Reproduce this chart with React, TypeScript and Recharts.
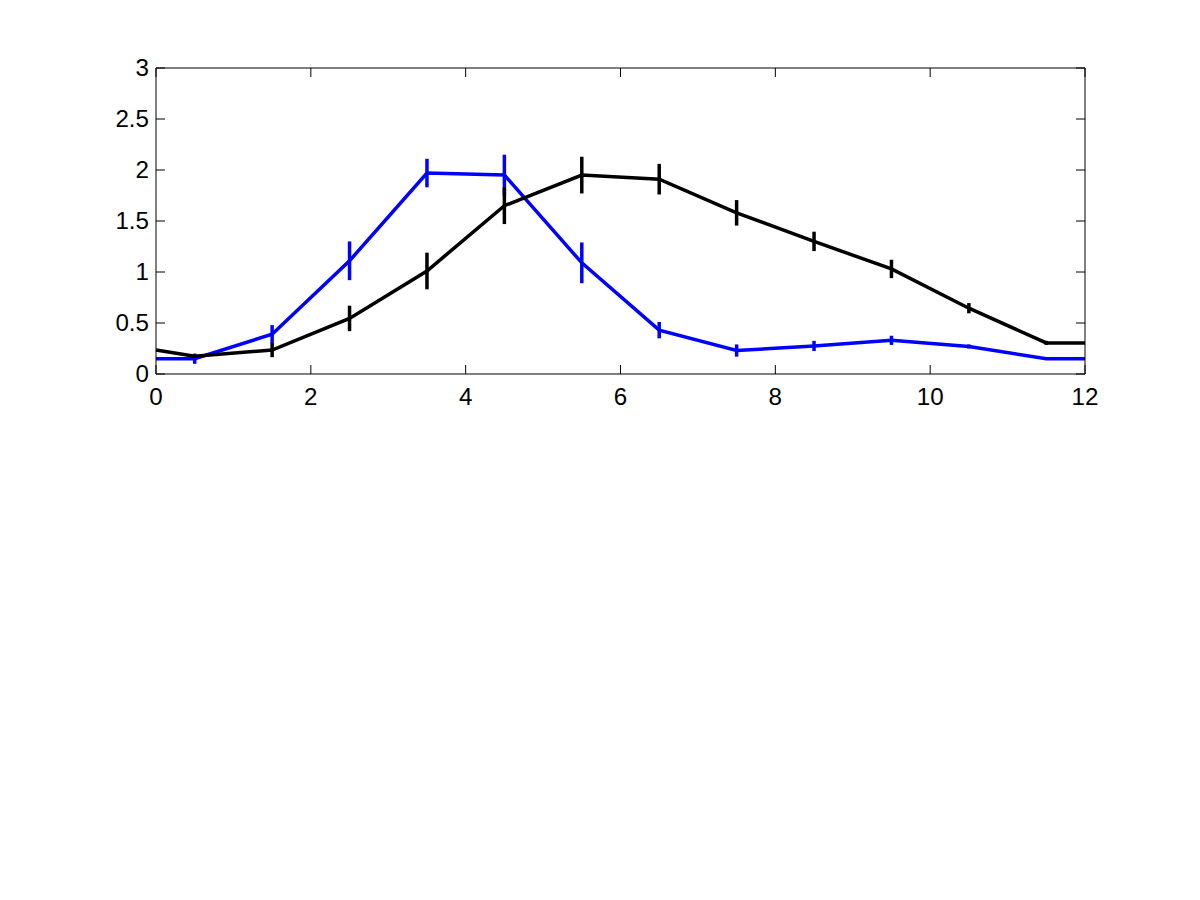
import { LineChart, Line, XAxis, YAxis, ErrorBar } from "recharts";

// x positions (bin centres, plus both ends of the axis)
const xs = [0, 0.5, 1.5, 2.5, 3.5, 4.5, 5.5, 6.5, 7.5, 8.5, 9.5, 10.5, 11.5, 12];

const blueValues = [0.15, 0.15, 0.39, 1.11, 1.97, 1.95, 1.09, 0.43, 0.23, 0.275, 0.33, 0.27, 0.15, 0.15];
const blueErrors = [0, 0.05, 0.09, 0.19, 0.14, 0.2, 0.2, 0.08, 0.06, 0.05, 0.045, 0.02, 0.01, 0];

const blackValues = [0.235, 0.175, 0.235, 0.545, 1.01, 1.65, 1.95, 1.91, 1.58, 1.3, 1.03, 0.645, 0.305, 0.305];
const blackErrors = [0, 0.02, 0.07, 0.125, 0.18, 0.18, 0.18, 0.15, 0.125, 0.095, 0.09, 0.05, 0.02, 0];

const xTicks = [0, 2, 4, 6, 8, 10, 12];
const yTicks = [0, 0.5, 1, 1.5, 2, 2.5, 3];

const data = xs.map((x, i) => ({
  x,
  blue: blueValues[i],
  blueErr: blueErrors[i],
  black: blackValues[i],
  blackErr: blackErrors[i],
}));

const BLUE = "#0000ff";
const BLACK = "#000000";
const FONT = "'Liberation Sans', Arial, sans-serif";
const TICK_LEN = 9;

// matlab-like ticks: short marks pointing into the plot box, labels outside
const BottomTick = ({ x, y, payload }: any) => (
  <g>
    <line x1={x} y1={y} x2={x} y2={y - TICK_LEN} stroke={BLACK} />
    <g transform={`translate(${x},${y + 31}) scale(1.05,1)`}>
      <text x={0} y={0} textAnchor="middle" fontFamily={FONT} fontSize={23} fill={BLACK}>
        {payload.value}
      </text>
    </g>
  </g>
);

const LeftTick = ({ x, y, payload }: any) => (
  <g>
    <line x1={x} y1={y} x2={x + TICK_LEN} y2={y} stroke={BLACK} />
    <g transform={`translate(${x - 7},${y + 8}) scale(1.05,1)`}>
      <text x={0} y={0} textAnchor="end" fontFamily={FONT} fontSize={23} fill={BLACK}>
        {payload.value}
      </text>
    </g>
  </g>
);

const TopTick = ({ x, y }: any) => (
  <line x1={x} y1={y} x2={x} y2={y + TICK_LEN} stroke={BLACK} />
);

const RightTick = ({ x, y }: any) => (
  <line x1={x} y1={y} x2={x - TICK_LEN} y2={y} stroke={BLACK} />
);

export default function App() {
  return (
    <div style={{ position: "fixed", left: 0, top: 0, width: 1200, height: 900, background: "#fff" }}>
      <LineChart
        width={1200}
        height={900}
        data={data}
        margin={{ top: 67, right: 114, bottom: 486, left: 96 }}
      >
        <XAxis
          dataKey="x"
          type="number"
          domain={[0, 12]}
          ticks={xTicks}
          height={40}
          tickSize={0}
          tickMargin={0}
          tickLine={false}
          tick={BottomTick}
          axisLine={{ stroke: BLACK }}
        />
        <XAxis
          xAxisId="top"
          orientation="top"
          dataKey="x"
          type="number"
          domain={[0, 12]}
          ticks={xTicks}
          height={1}
          tickSize={0}
          tickMargin={0}
          tickLine={false}
          tick={TopTick}
          axisLine={{ stroke: BLACK }}
        />
        <YAxis
          type="number"
          domain={[0, 3]}
          ticks={yTicks}
          width={60}
          tickSize={0}
          tickMargin={0}
          tickLine={false}
          tick={LeftTick}
          axisLine={{ stroke: BLACK }}
        />
        <YAxis
          yAxisId="right"
          orientation="right"
          type="number"
          domain={[0, 3]}
          ticks={yTicks}
          width={1}
          tickSize={0}
          tickMargin={0}
          tickLine={false}
          tick={RightTick}
          axisLine={{ stroke: BLACK }}
        />
        {/* invisible series so the top / right frame axes get drawn */}
        <Line
          xAxisId="top"
          yAxisId="right"
          dataKey="black"
          stroke="none"
          dot={false}
          activeDot={false}
          isAnimationActive={false}
        />
        <Line
          dataKey="blue"
          type="linear"
          stroke={BLUE}
          strokeWidth={3.5}
          dot={false}
          isAnimationActive={false}
        >
          <ErrorBar dataKey="blueErr" width={0} stroke={BLUE} strokeWidth={3.5} direction="y" />
        </Line>
        <Line
          dataKey="black"
          type="linear"
          stroke={BLACK}
          strokeWidth={3.5}
          dot={false}
          isAnimationActive={false}
        >
          <ErrorBar dataKey="blackErr" width={0} stroke={BLACK} strokeWidth={3.5} direction="y" />
        </Line>
      </LineChart>
    </div>
  );
}
